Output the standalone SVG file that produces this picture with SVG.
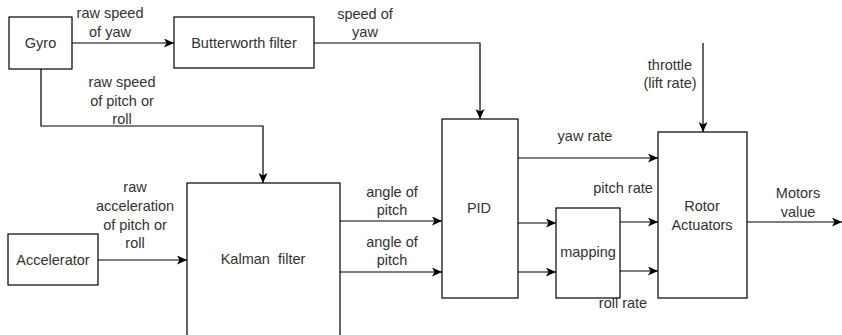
<svg xmlns="http://www.w3.org/2000/svg" width="842" height="335" viewBox="0 0 842 335">
<style>
.box{fill:#fff;stroke:#000;stroke-width:1.2}
.ln{fill:none;stroke:#000;stroke-width:1.2}
.arr{marker-end:url(#ah)}
text{font-family:"Liberation Sans",Arial,sans-serif;font-size:14.5px;fill:#333;text-anchor:middle;white-space:pre}
</style>
<defs>
<marker id="ah" markerUnits="userSpaceOnUse" markerWidth="11" markerHeight="9" refX="10" refY="4.5" orient="auto">
<path d="M0,0 L10,4.5 L0,9 L2.5,4.5 z" fill="#000"/>
</marker>
</defs>
<rect width="842" height="335" fill="#fff"/>
<g id="connectors">
<path class="ln arr" d="M72,43 H174"/>
<path class="ln arr" d="M314,43 H480 V119"/>
<path class="ln arr" d="M41,69 V126 H263 V183"/>
<path class="ln arr" d="M98,260 H187"/>
<path class="ln arr" d="M340,221 H442"/>
<path class="ln arr" d="M340,272 H442"/>
<path class="ln arr" d="M518,158 H658"/>
<path class="ln arr" d="M518,223 H556"/>
<path class="ln arr" d="M518,272 H556"/>
<path class="ln arr" d="M620,222 H658"/>
<path class="ln arr" d="M620,271 H658"/>
<path class="ln arr" d="M703,43 V132"/>
<path class="ln arr" d="M747,222 H842"/>
<text x="110" y="18">raw speed</text>
<text x="110" y="37">of yaw</text>
<text x="365" y="19">speed of</text>
<text x="365" y="37">yaw</text>
<text x="122" y="87">raw speed</text>
<text x="122" y="106">of pitch or</text>
<text x="122" y="124">roll</text>
<text x="135" y="192">raw</text>
<text x="135" y="211">acceleration</text>
<text x="135" y="230">of pitch or</text>
<text x="135" y="248">roll</text>
<text x="392" y="197">angle of</text>
<text x="392" y="215">pitch</text>
<text x="392" y="247">angle of</text>
<text x="392" y="265">pitch</text>
<text x="585" y="141">yaw rate</text>
<text x="670" y="70">throttle</text>
<text x="670" y="88">(lift rate)</text>
<text x="623" y="193">pitch rate</text>
<text x="623" y="308">roll rate</text>
<text x="798" y="198">Motors</text>
<text x="798" y="217">value</text>
</g>
<g id="gyro"><rect class="box" x="9" y="17" width="63" height="52"/><text x="40.5" y="48">Gyro</text></g>
<g id="butterworth"><rect class="box" x="174" y="17" width="140" height="51"/><text x="244" y="48">Butterworth filter</text></g>
<g id="accelerator"><rect class="box" x="8" y="234" width="90" height="51"/><text x="53" y="265">Accelerator</text></g>
<g id="kalman"><rect class="box" x="187" y="183" width="153" height="170"/><text x="263" y="264">Kalman  filter</text></g>
<g id="pid"><rect class="box" x="442" y="119" width="76" height="179"/><text x="479" y="213">PID</text></g>
<g id="mapping"><rect class="box" x="556" y="208" width="64" height="90"/><text x="588" y="257">mapping</text></g>
<g id="rotor"><rect class="box" x="658" y="132" width="89" height="166"/><text x="702" y="211">Rotor</text><text x="702" y="230">Actuators</text></g>
</svg>
